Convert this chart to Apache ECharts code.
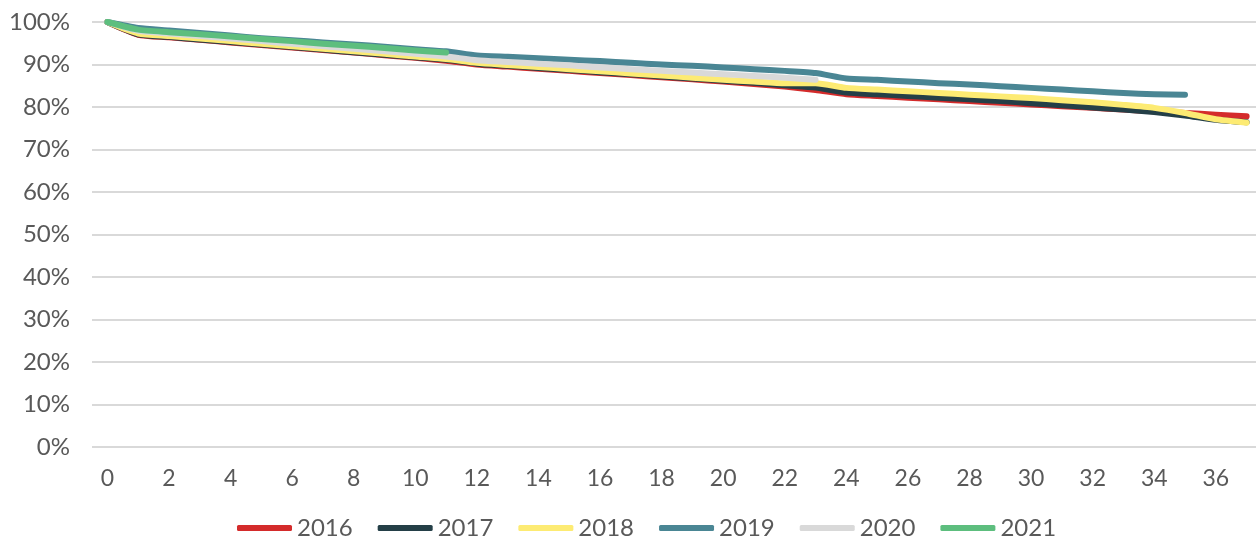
<!DOCTYPE html>
<html>
<head>
<meta charset="utf-8">
<script src="https://cdn.jsdelivr.net/npm/echarts@6/dist/echarts.min.js"></script>
<style>
  html, body { margin: 0; padding: 0; background: #ffffff; }
  #main { width: 1256px; height: 543px; }
</style>
</head>
<body>
<div id="main"></div>
<script>
// months since start, 0..37
let months = []
for (let i = 0; i <= 37; i++) months.push(String(i))

let years = ['2016', '2017', '2018', '2019', '2020', '2021']
let colors = ['#d42b2b', '#243f47', '#fdeb73', '#4a8694', '#d9d9d9', '#5dbe7e']

// retention in %
let y2016 = [100, 97.0, 96.4, 95.8, 95.2, 94.6, 94.0, 93.4, 92.8, 92.2, 91.6, 90.9,
  90.0, 89.5, 89.0, 88.5, 88.0, 87.5, 87.0, 86.5, 86.0, 85.4, 84.8, 84.0,
  83.0, 82.6, 82.2, 81.8, 81.4, 81.0, 80.6, 80.2, 79.8, 79.4, 79.0, 78.6, 78.2, 77.8]
let y2017 = [100, 97.1, 96.5, 95.9, 95.3, 94.7, 94.1, 93.5, 92.9, 92.3, 91.7, 91.1,
  90.2, 89.7, 89.2, 88.7, 88.2, 87.7, 87.2, 86.7, 86.2, 85.7, 85.1, 84.6,
  83.4, 83.0, 82.6, 82.2, 81.8, 81.4, 80.9, 80.4, 79.9, 79.4, 78.8, 78.0, 77.0, 76.4]
let y2018 = [100, 97.3, 96.7, 96.1, 95.5, 94.9, 94.3, 93.7, 93.1, 92.5, 91.9, 91.3,
  90.4, 89.9, 89.4, 88.9, 88.4, 87.9, 87.4, 86.9, 86.4, 86.0, 85.6, 85.6,
  84.5, 84.1, 83.7, 83.3, 82.9, 82.5, 82.1, 81.6, 81.1, 80.5, 79.8, 78.6, 77.1, 76.3]
let y2019 = [100, 98.6, 98.0, 97.4, 96.8, 96.2, 95.7, 95.2, 94.7, 94.2, 93.6, 93.1,
  92.1, 91.8, 91.5, 91.1, 90.8, 90.4, 90.0, 89.7, 89.3, 88.9, 88.5, 88.0,
  86.7, 86.4, 86.0, 85.6, 85.3, 84.9, 84.5, 84.1, 83.7, 83.3, 83.0, 82.9, null, null]
let y2020 = [100, 97.9, 97.3, 96.7, 96.1, 95.5, 94.9, 94.3, 93.7, 93.1, 92.5, 91.9,
  91.0, 90.6, 90.2, 89.8, 89.3, 88.9, 88.5, 88.1, 87.7, 87.3, 86.9, 86.4,
  null, null, null, null, null, null, null, null, null, null, null, null, null, null]
let y2021 = [100, 98.2, 97.6, 97.1, 96.6, 96.0, 95.5, 94.9, 94.4, 93.9, 93.3, 92.8,
  null, null, null, null, null, null, null, null, null, null, null, null,
  null, null, null, null, null, null, null, null, null, null, null, null, null, null]

let seriesData = [y2016, y2017, y2018, y2019, y2020, y2021]

let myChart = echarts.init(document.getElementById('main'))
let textColor = '#595959'
let font = 'Lato, "Open Sans", sans-serif'

let series = []
for (let i in years) {
  series.push({
    name: years[i],
    type: 'line',
    data: seriesData[i],
    showSymbol: false,
    symbol: 'none',
    smooth: 0.2,
    lineStyle: { width: 6, color: colors[i], cap: 'round', join: 'round' },
    itemStyle: { color: colors[i] },
    emphasis: { disabled: true },
  })
}

let option = {
  backgroundColor: '#ffffff',
  animation: false,
  color: colors,
  grid: {
    top: 22,
    left: 92,
    right: -6,
    bottom: 96,
    outerBoundsMode: 'none',
  },
  legend: {
    bottom: 3,
    padding: 0,
    left: 237,
    icon: 'roundRect',
    itemWidth: 55,
    itemHeight: 6,
    itemGap: 25,
    textStyle: { color: textColor, fontSize: 24, fontFamily: font },
    data: years,
  },
  xAxis: {
    type: 'category',
    boundaryGap: true,
    data: months,
    axisLine: { show: false },
    axisTick: { show: false },
    axisLabel: {
      interval: 1,
      color: textColor,
      fontSize: 23,
      fontFamily: font,
      margin: 20,
    },
  },
  yAxis: {
    type: 'value',
    min: 0,
    max: 100,
    interval: 10,
    axisLine: { show: false },
    axisTick: { show: false },
    splitLine: { lineStyle: { color: '#d9d9d9', width: 2 } },
    axisLabel: {
      color: textColor,
      fontSize: 24,
      fontFamily: font,
      margin: 22,
      formatter: '{value}%',
    },
  },
  series: series,
}
myChart.setOption(option)
</script>
</body>
</html>
